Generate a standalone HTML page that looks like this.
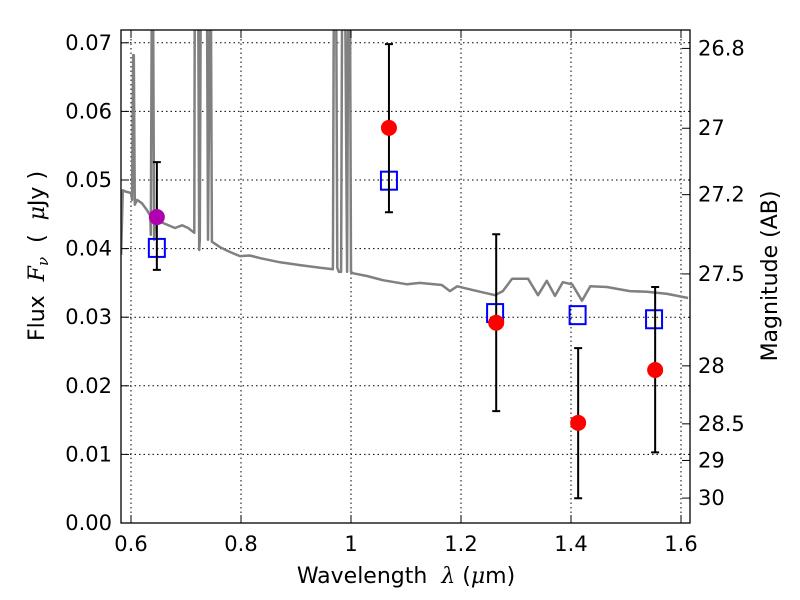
<!DOCTYPE html>
<html><head><meta charset="utf-8"><style>
body{margin:0;background:#fff;}
svg{display:block;font-family:"DejaVu Sans","Liberation Sans",sans-serif;}
</style></head><body>
<svg id="chart" width="800" height="600" viewBox="0 0 800 600" xmlns="http://www.w3.org/2000/svg">
<defs><clipPath id="clip"><rect x="121" y="30" width="569" height="493"/></clipPath></defs>
<rect x="0" y="0" width="800" height="600" fill="#fff"/>
<g id="grid"></g>
<g id="spec" clip-path="url(#clip)"></g>
<g id="pts"></g>
<rect x="121" y="30" width="569" height="493" fill="none" stroke="#000" stroke-width="1.3"/>
<g id="axes"></g>
<text x="406" y="583" font-size="22" text-anchor="middle" xml:space="preserve">Wavelength  <tspan font-style="italic" font-family="DejaVu Serif,serif">λ</tspan> (<tspan font-style="italic" font-family="DejaVu Serif,serif">μ</tspan>m)</text>
<text transform="translate(44,256) rotate(-90)" font-size="22" text-anchor="middle" xml:space="preserve">Flux  <tspan font-style="italic" font-family="DejaVu Serif,serif">F<tspan font-size="15" dy="4">ν</tspan></tspan><tspan dy="-4">  (  </tspan><tspan font-style="italic" font-family="DejaVu Serif,serif">μ</tspan>Jy )</text>
<text transform="translate(777,276) rotate(-90)" font-size="22" text-anchor="middle">Magnitude (AB)</text>
</svg>
<script>
const xTicks=[0.6,0.8,1.0,1.2,1.4,1.6];
const xTickLabels=["0.6","0.8","1","1.2","1.4","1.6"];
const yTicks=[0,0.01,0.02,0.03,0.04,0.05,0.06,0.07];
const yTickLabels=["0.00","0.01","0.02","0.03","0.04","0.05","0.06","0.07"];
const magTicks=[26.8,27,27.2,27.5,28,28.5,29,30];
const magTickLabels=["26.8","27","27.2","27.5","28","28.5","29","30"];
const specWave=[0.582,0.585,0.591,0.600,0.602,0.604,0.605,0.607,0.611,0.620,0.629,0.635,0.636,0.638,0.640,0.642,0.644,0.653,0.662,0.680,0.693,0.704,0.715,0.716,0.722,0.724,0.725,0.727,0.738,0.740,0.744,0.745,0.747,0.762,0.780,0.798,0.816,0.835,0.871,0.907,0.944,0.967,0.969,0.973,0.975,0.978,0.982,0.984,0.989,0.993,0.995,0.998,1.000,1.004,1.029,1.058,1.102,1.125,1.165,1.180,1.193,1.235,1.262,1.276,1.293,1.322,1.340,1.356,1.371,1.385,1.402,1.420,1.435,1.465,1.507,1.538,1.575,1.613];
const specFlux=[0.0391,0.0485,0.0483,0.0481,0.0471,0.0682,0.0682,0.0464,0.0471,0.0466,0.0456,0.0448,0.042,0.08,0.08,0.0413,0.0442,0.0439,0.0436,0.043,0.0434,0.043,0.0423,0.08,0.08,0.0398,0.0413,0.08,0.08,0.0413,0.08,0.08,0.041,0.0402,0.0395,0.0389,0.039,0.0386,0.038,0.0376,0.0372,0.037,0.08,0.08,0.0372,0.0366,0.0366,0.08,0.08,0.0366,0.08,0.08,0.0366,0.0364,0.036,0.0354,0.0348,0.035,0.0347,0.0338,0.0345,0.0337,0.0332,0.0338,0.0356,0.0356,0.0332,0.0353,0.0331,0.0351,0.0348,0.0324,0.0345,0.0344,0.0338,0.0337,0.0334,0.0328];
const obsWave=[0.647,1.069,1.264,1.413,1.553];
const obsFlux=[0.0446,0.0576,0.0292,0.0146,0.0223];
const obsHi=[0.0526,0.0698,0.0421,0.0255,0.0344];
const obsLo=[0.0369,0.0453,0.0163,0.0036,0.0103];
const obsColor=["#b000b0","red","red","red","red"];
const modelWave=[0.647,1.069,1.262,1.412,1.551];
const modelFlux=[0.0401,0.0499,0.0306,0.0303,0.0297];

const NS="http://www.w3.org/2000/svg";
const X=w=>131+(w-0.6)*550;
const Y=f=>523-f*6860;
const magY=m=>Y(Math.pow(10,(23.9-m)/2.5));
function mk(tag,attrs,parent){const e=document.createElementNS(NS,tag);for(const k in attrs)e.setAttribute(k,attrs[k]);parent.appendChild(e);return e;}
const grid=document.getElementById('grid'),axes=document.getElementById('axes');
xTicks.forEach((t,i)=>{
  const x=X(t);
  const g=mk('line',{x1:x,x2:x,y1:30,y2:523,stroke:'#000','stroke-width':1,'stroke-dasharray':'1.5,3'},grid);
  
  
  mk('line',{x1:x,x2:x,y1:523,y2:515,stroke:'#000'},axes);
  mk('line',{x1:x,x2:x,y1:30,y2:38,stroke:'#000'},axes);
  const tx=mk('text',{x:x,y:551,'font-size':21,'text-anchor':'middle'},axes);
  tx.textContent=xTickLabels[i];
  
  
});
yTicks.forEach((t,i)=>{
  const y=Y(t);
  const g=mk('line',{x1:121,x2:690,y1:y,y2:y,stroke:'#000','stroke-width':1,'stroke-dasharray':'1.5,3'},grid);
  
  
  mk('line',{x1:121,x2:129,y1:y,y2:y,stroke:'#000'},axes);
  const tx=mk('text',{x:112,y:y+7,'font-size':21,'text-anchor':'end'},axes);
  tx.textContent=yTickLabels[i];
  
  
});
magTicks.forEach((m,i)=>{
  const y=magY(m);
  mk('line',{x1:682,x2:690,y1:y,y2:y,stroke:'#000'},axes);
  const tx=mk('text',{x:698,y:y+7,'font-size':21},axes);
  tx.textContent=magTickLabels[i];
  
  
});
const spec=document.getElementById('spec');
const d=specWave.map((w,i)=>(i?'L':'M')+X(w).toFixed(1)+','+Y(specFlux[i]).toFixed(1)).join('');
const sp=mk('path',{d:d,fill:'none',stroke:'#808080','stroke-width':2.5,'stroke-linejoin':'round'},spec);


const pts=document.getElementById('pts');
modelWave.forEach((w,i)=>{
  const r=mk('rect',{x:X(w)-8,y:Y(modelFlux[i])-9,width:16,height:18,fill:'none',stroke:'#0000ff','stroke-width':2},pts);
  
  
});
obsWave.forEach((w,i)=>{
  const x=X(w),yh=Y(obsHi[i]),yl=Y(obsLo[i]);
  const e=mk('path',{d:`M${x},${yh}L${x},${yl}M${x-4},${yh}L${x+4},${yh}M${x-4},${yl}L${x+4},${yl}`,stroke:'#000','stroke-width':2,fill:'none'},pts);
  
  
  const c=mk('circle',{cx:x,cy:Y(obsFlux[i]),r:8,fill:obsColor[i]},pts);
  
  
});
</script>
</body></html>
